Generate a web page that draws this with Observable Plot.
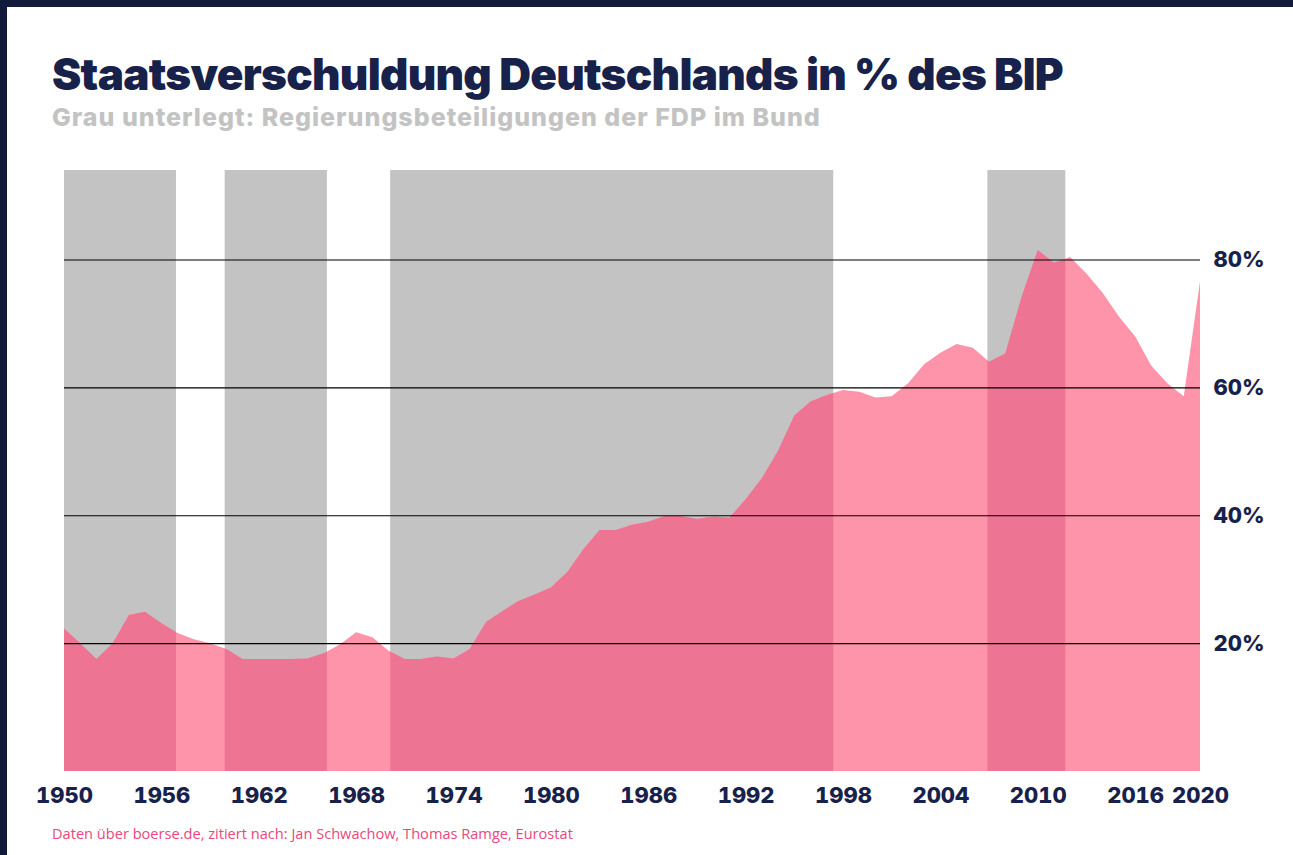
<!DOCTYPE html>
<html><head><meta charset="utf-8">
<script src="https://cdn.jsdelivr.net/npm/d3@7"></script>
<script src="https://cdn.jsdelivr.net/npm/@observablehq/plot@0.6"></script>
<style>
html,body{margin:0;padding:0;}
body{background:#121a3c;width:1293px;height:855px;overflow:hidden;position:relative;}
#card{position:absolute;left:7px;top:7px;width:1286px;height:848px;background:#fff;}
#title{position:absolute;left:52px;top:49px;margin:0;font-family:Inter,Roboto,sans-serif;font-weight:900;font-size:44px;line-height:50px;color:#17214a;letter-spacing:-0.73px;white-space:nowrap;}
#subtitle{position:absolute;left:52px;top:102px;margin:0;font-family:Inter,Roboto,sans-serif;font-weight:800;font-size:25px;line-height:30px;color:#c3c3c3;letter-spacing:1px;white-space:nowrap;}
#chart{position:absolute;left:0;top:140px;}
#caption{position:absolute;left:52px;top:823px;margin:0;font-family:"Open Sans","Noto Sans",sans-serif;font-size:14.6px;line-height:20px;color:#e8487c;white-space:nowrap;}
</style></head><body>
<div id="card"></div>
<h1 id="title">Staatsverschuldung Deutschlands in % des BIP</h1>
<div id="subtitle">Grau unterlegt: Regierungsbeteiligungen der FDP im Bund</div>
<div id="chart"></div>
<div id="caption">Daten über boerse.de, zitiert nach: Jan Schwachow, Thomas Ramge, Eurostat</div>
<script>
const years = [1950,1951,1952,1953,1954,1955,1956,1957,1958,1959,
  1960,1961,1962,1963,1964,1965,1966,1967,1968,1969,
  1970,1971,1972,1973,1974,1975,1976,1977,1978,1979,
  1980,1981,1982,1983,1984,1985,1986,1987,1988,1989,
  1990,1991,1992,1993,1994,1995,1996,1997,1998,1999,
  2000,2001,2002,2003,2004,2005,2006,2007,2008,2009,
  2010,2011,2012,2013,2014,2015,2016,2017,2018,2019,2020];
const debtPct = [22.3,20.0,17.5,20.0,24.4,24.9,23.1,21.6,20.6,20.0,
  19.1,17.5,17.5,17.5,17.5,17.6,18.4,19.8,21.7,20.9,
  18.8,17.5,17.5,17.9,17.6,19.1,23.3,25.0,26.6,27.6,
  28.7,31.1,34.7,37.7,37.7,38.5,39.0,39.9,39.9,39.4,
  39.8,39.6,42.5,45.8,50.1,55.6,57.8,58.8,59.6,59.3,
  58.4,58.6,60.6,63.6,65.4,66.8,66.2,64.0,65.3,74.1,
  81.5,79.5,80.4,77.8,74.8,71.1,68.0,63.4,60.6,58.6,76.6];
const fdpStart = [1950, 1959.9, 1970.1, 2006.9];
const fdpEnd   = [1956.9, 1966.2, 1997.4, 2011.7];
const xTicks = [1950,1956,1962,1968,1974,1980,1986,1992,1998,2004,2010,2016,2020];
const yTicks = [20,40,60,80];
const yMax = 94;

const series = years.map((y,i)=>({year:y, value:debtPct[i]}));
const bands = fdpStart.map((s,i)=>({start:s, end:fdpEnd[i]}));

const W = 1293, H = 680;
const chart = Plot.plot({
  width: W, height: H,
  marginLeft: 64, marginRight: 93, marginTop: 30, marginBottom: 49,
  style: {fontFamily: "Inter, Roboto, sans-serif", fontSize: "22px", fontWeight: 800, color: "#17214a", background: "transparent", overflow: "visible"},
  x: {domain: [1950, 2020], ticks: xTicks, tickFormat: d => String(d), tickSize: 0, tickPadding: 16, label: null},
  y: {domain: [0, yMax], axis: "right", ticks: yTicks, tickFormat: d => d + "%", tickSize: 0, tickPadding: 13, label: null},
  marks: [
    Plot.rect(bands, {x1: "start", x2: "end", y1: 0, y2: yMax, fill: "#c3c3c3"}),
    Plot.areaY(series, {x: "year", y: "value", fill: "#fe94a9"}),
    Plot.areaY(series, {x: "year", y: "value", fill: "#ee7493"}),
    Plot.ruleY(yTicks, {stroke: "#000", strokeWidth: 1.2})
  ]
});
document.getElementById("chart").appendChild(chart);

// restrict the darker area to the FDP periods using the plot's own x scale
const xs = chart.scale("x");
const svg = d3.select(chart.tagName.toLowerCase() === "svg" ? chart : chart.querySelector("svg"));
const cp = svg.append("defs").append("clipPath").attr("id", "fdpclip");
bands.forEach(b => {
  const a = xs.apply(b.start), e = xs.apply(b.end);
  cp.append("rect").attr("x", a).attr("y", 0).attr("width", e - a).attr("height", H);
});
const areas = svg.selectAll('g[aria-label="area"]').nodes();
if (areas.length > 1) d3.select(areas[1]).attr("clip-path", "url(#fdpclip)");
svg.selectAll("text").attr("fill", "#17214a");
</script>
</body></html>
